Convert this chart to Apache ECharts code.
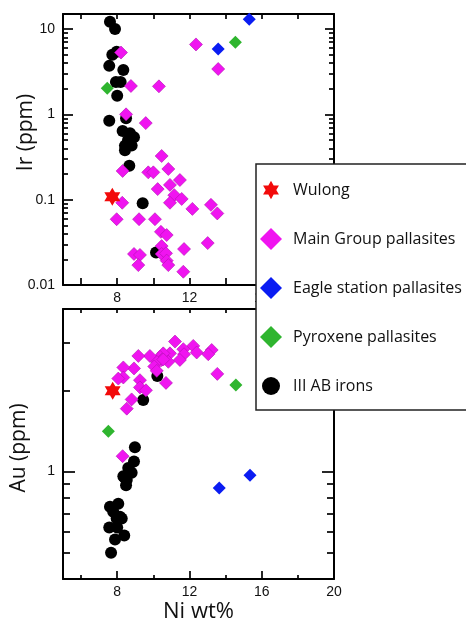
<!DOCTYPE html>
<html>
<head>
<meta charset="utf-8">
<script src="https://cdn.jsdelivr.net/npm/echarts@6/dist/echarts.min.js"></script>
<style>
  body { margin: 0; background: #fff; }
  #main { width: 466px; height: 623px; }
</style>
</head>
<body>
<div id="main"></div>
<script>
// tick values
var niTicks = [6, 8, 10, 12, 14, 16, 18, 20];
var niLabels = [8, 12, 16, 20];
var niShort = [6, 10, 14, 18];
var irMajor = [0.01, 0.1, 1, 10];
var irMinor = [0.02, 0.03, 0.04, 0.05, 0.06, 0.07, 0.08, 0.09,
               0.2, 0.3, 0.4, 0.5, 0.6, 0.7, 0.8, 0.9,
               2, 3, 4, 5, 6, 7, 8, 9];
var auMajor = [1];
var auMinor = [0.5, 0.6, 0.7, 0.8, 0.9, 2, 3];

// Ni wt% vs Ir (ppm)
var wulongIr = [[7.73, 0.108]];
var mainGroupIr = [
  [8.21, 5.3], [8.76, 2.15], [10.31, 2.13], [8.49, 1.0], [9.58, 0.79],
  [12.36, 6.6], [13.59, 3.4], [10.46, 0.325], [8.30, 0.217], [9.72, 0.209],
  [10.00, 0.209], [10.83, 0.229], [11.47, 0.170], [10.24, 0.133], [10.92, 0.149],
  [11.16, 0.113], [11.57, 0.102], [10.92, 0.092], [8.28, 0.092], [12.16, 0.078],
  [13.19, 0.087], [13.54, 0.069], [7.97, 0.059], [9.21, 0.059], [10.09, 0.059],
  [10.42, 0.042], [10.74, 0.0385], [13.01, 0.031], [10.46, 0.0286], [8.93, 0.0231],
  [9.26, 0.0225], [9.17, 0.0171], [10.46, 0.0231], [10.70, 0.0235], [10.74, 0.0193],
  [10.83, 0.0171], [11.70, 0.0264], [11.66, 0.0143]
];
var eagleIr = [[15.31, 13.0], [13.59, 5.85]];
var pyroxeneIr = [[14.54, 7.0], [7.45, 2.02]];
var ironsIr = [
  [7.60, 12.2], [7.88, 10.0], [7.97, 5.4], [7.73, 5.0], [7.56, 3.7],
  [8.34, 3.3], [7.93, 2.4], [8.19, 2.4], [8.00, 1.65], [7.56, 0.84],
  [8.49, 0.90], [8.30, 0.64], [8.71, 0.60], [8.93, 0.54], [8.60, 0.50],
  [8.43, 0.43], [8.80, 0.43], [8.43, 0.38], [8.67, 0.25], [9.41, 0.091],
  [10.15, 0.024]
];

// Ni wt% vs Au (ppm)
var wulongAu = [[7.75, 1.99]];
var mainGroupAu = [
  [11.20, 3.03], [12.21, 2.92], [12.40, 2.76], [13.23, 2.82], [13.04, 2.72],
  [11.66, 2.84], [11.70, 2.72], [11.47, 2.59], [10.92, 2.74], [10.83, 2.55],
  [10.55, 2.74], [10.37, 2.66], [10.46, 2.59], [10.19, 2.55], [9.81, 2.68],
  [9.17, 2.68], [10.05, 2.45], [10.19, 2.36], [8.93, 2.41], [8.34, 2.43],
  [8.34, 2.23], [8.06, 2.21], [9.26, 2.18], [10.70, 2.13], [13.54, 2.30],
  [9.26, 2.05], [9.59, 2.00], [8.80, 1.85], [8.53, 1.71], [8.30, 1.14],
  [10.55, 2.60]
];
var eagleAu = [[13.65, 0.87], [15.35, 0.97]];
var pyroxeneAu = [[14.57, 2.09], [7.51, 1.41]];
var ironsAu = [
  [10.22, 2.26], [9.44, 1.84], [8.98, 1.23], [8.93, 1.09], [8.61, 1.03],
  [8.80, 0.99], [8.34, 0.96], [8.53, 0.93], [8.49, 0.89], [8.70, 1.00],
  [8.40, 0.95], [8.06, 0.76], [7.60, 0.74], [7.78, 0.71], [8.15, 0.68],
  [7.97, 0.67], [8.25, 0.67], [7.56, 0.62], [8.00, 0.62], [8.39, 0.58],
  [7.88, 0.56], [7.66, 0.50]
];

var star = 'path://M100,0 L128.9,50 L186.6,50 L157.7,100 L186.6,150 L128.9,150 L100,200 L71.1,150 L13.4,150 L42.3,100 L13.4,50 L71.1,50 Z';
var starIcon = 'path://M-20,-20 M220,220 M100,0 L128.9,50 L186.6,50 L157.7,100 L186.6,150 L128.9,150 L100,200 L71.1,150 L13.4,150 L42.3,100 L13.4,50 L71.1,50 Z';
var circleIcon = 'path://M0,0 M22,22 M2,11 A9,9 0 1 1 20,11 A9,9 0 1 1 2,11 Z';

var black = '#000';
var lineSt = { color: black, width: 2 };
var tickSt = { color: black, width: 1.7 };
var tickFont = { fontFamily: 'Liberation Sans', fontSize: 14, color: '#111' };
var nameFont = { fontFamily: 'Open Sans', fontSize: 21, color: '#111' };

function xAx(grid, pos, ticks, len, labels, showLine) {
  return {
    gridIndex: grid, type: 'value', min: 5, max: 20, position: pos,
    axisLine: { show: showLine, onZero: false, lineStyle: lineSt },
    axisTick: { show: true, inside: true, length: len, customValues: ticks, lineStyle: tickSt },
    axisLabel: labels ? Object.assign({ customValues: labels, margin: 6 }, tickFont) : { show: false },
    splitLine: { show: false }
  };
}
function yAx(grid, pos, lo, hi, ticks, len, labels, showLine) {
  return {
    gridIndex: grid, type: 'log', min: lo, max: hi, position: pos,
    axisLine: { show: showLine, onZero: false, lineStyle: lineSt },
    axisTick: { show: true, inside: true, length: len, customValues: ticks, lineStyle: tickSt },
    axisLabel: labels ? Object.assign({ customValues: labels, margin: 8, formatter: function (v) { return String(v); } }, tickFont) : { show: false },
    splitLine: { show: false },
    minorTick: { show: false }
  };
}

var xAxes = [
  xAx(0, 'bottom', niTicks, 7, niLabels, true),
  xAx(0, 'top', niTicks, 5, null, true),
  xAx(1, 'bottom', niLabels, 8, niLabels, true),
  xAx(1, 'bottom', niShort, 4, null, false),
  xAx(1, 'top', niTicks, 4, null, true)
];
Object.assign(xAxes[2], {
  name: 'Ni wt%', nameLocation: 'middle', nameGap: 22, nameMoveOverlap: false,
  nameTextStyle: Object.assign({}, nameFont, { fontSize: 22 })
});

var yAxes = [
  yAx(0, 'left', 0.01, 15, irMajor, 10, irMajor, true),
  yAx(0, 'left', 0.01, 15, irMinor, 5, null, false),
  yAx(0, 'right', 0.01, 15, irMajor, 9, null, true),
  yAx(0, 'right', 0.01, 15, irMinor, 5, null, false),
  yAx(1, 'left', 0.4, 4, auMajor, 12, auMajor, true),
  yAx(1, 'left', 0.4, 4, auMinor, 7, null, false),
  yAx(1, 'right', 0.4, 4, auMajor, 12, null, true),
  yAx(1, 'right', 0.4, 4, auMinor, 7, null, false)
];
Object.assign(yAxes[0], {
  name: 'Ir (ppm)', nameLocation: 'middle', nameGap: 26, nameRotate: 90, nameMoveOverlap: false,
  nameTextStyle: Object.assign({}, nameFont, { padding: [0, 0, 0, 34] })
});
Object.assign(yAxes[4], {
  name: 'Au (ppm)', nameLocation: 'middle', nameGap: 33, nameRotate: 90, nameMoveOverlap: false,
  nameTextStyle: Object.assign({}, nameFont, { padding: [0, 8, 0, 0] })
});

function sc(name, xi, yi, data, symbol, size, style, z) {
  return {
    name: name, type: 'scatter', xAxisIndex: xi, yAxisIndex: yi, data: data,
    symbol: symbol, symbolSize: size, itemStyle: style, z: z,
    emphasis: { disabled: true }
  };
}
var sMagenta = { color: '#f014f0', borderColor: '#b010b0', borderWidth: 0.6, opacity: 1 };
var sBlue = { color: '#0a1cf2', opacity: 1 };
var sGreen = { color: '#2fb52f', opacity: 1 };
var sBlack = { color: '#000', opacity: 1 };
var sRed = { color: '#f20a0a', opacity: 1 };

var myChart = echarts.init(document.getElementById('main'));
var option = {
  backgroundColor: '#fff',
  animation: false,
  grid: [
    { left: 63, top: 14, width: 271, height: 271, outerBoundsMode: 'none', containLabel: false },
    { left: 63, top: 309, width: 271, height: 270, outerBoundsMode: 'none', containLabel: false }
  ],
  xAxis: xAxes,
  yAxis: yAxes,
  legend: {
    left: 256, top: 164, width: 300, orient: 'vertical',
    itemWidth: 22, itemHeight: 22, itemGap: 27,
    padding: [15, 60, 13, 4],
    backgroundColor: '#fff', borderWidth: 0,
    selectedMode: false, z: 10,
    textStyle: { fontFamily: 'Open Sans', fontSize: 16, color: '#111', padding: [0, 0, 0, 6] },
    data: [
      { name: 'Wulong', icon: starIcon },
      { name: 'Main Group pallasites', icon: 'diamond', itemStyle: { borderWidth: 0 } },
      { name: 'Eagle station pallasites', icon: 'diamond' },
      { name: 'Pyroxene pallasites', icon: 'diamond' },
      { name: 'III AB irons', icon: circleIcon }
    ]
  },
  // legend frame runs off the right edge of the picture
  graphic: [{
    type: 'rect', z: 20, silent: true,
    shape: { x: 256, y: 164, width: 240, height: 246 },
    style: { fill: null, stroke: '#222', lineWidth: 1.5 }
  }],
  series: [
    sc('III AB irons', 0, 0, ironsIr, 'circle', 12, sBlack, 2),
    sc('Main Group pallasites', 0, 0, mainGroupIr, 'diamond', 13, sMagenta, 3),
    sc('Eagle station pallasites', 0, 0, eagleIr, 'diamond', 13, sBlue, 3),
    sc('Pyroxene pallasites', 0, 0, pyroxeneIr, 'diamond', 13, sGreen, 3),
    sc('Wulong', 0, 0, wulongIr, star, [16, 18], sRed, 4),
    sc('III AB irons', 2, 4, ironsAu, 'circle', 12, sBlack, 2),
    sc('Main Group pallasites', 2, 4, mainGroupAu, 'diamond', 13, sMagenta, 3),
    sc('Eagle station pallasites', 2, 4, eagleAu, 'diamond', 13, sBlue, 3),
    sc('Pyroxene pallasites', 2, 4, pyroxeneAu, 'diamond', 13, sGreen, 3),
    sc('Wulong', 2, 4, wulongAu, star, [16, 18], sRed, 4)
  ]
};
myChart.setOption(option);
</script>
</body>
</html>
